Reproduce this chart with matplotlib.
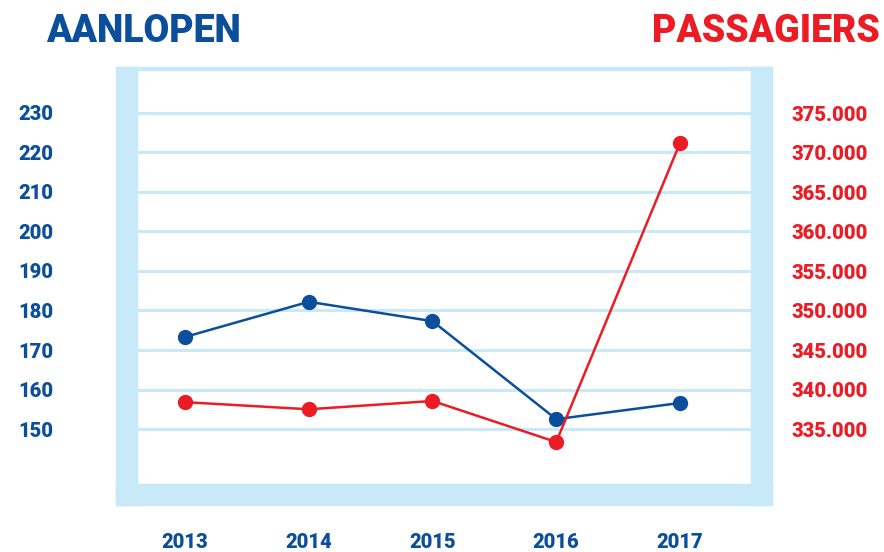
import matplotlib
matplotlib.use("Agg")
import matplotlib.pyplot as plt
from matplotlib.patches import Rectangle

# ======= DATA =======
jaren = ["2013", "2014", "2015", "2016", "2017"]
aanlopen = [173.3, 182.2, 177.3, 152.5, 156.6]
passagiers = [338400, 337500, 338550, 333350, 371200]
aanlopen_ticks = [150, 160, 170, 180, 190, 200, 210, 220, 230]
passagiers_ticks = [335000, 340000, 345000, 350000, 355000, 360000, 365000, 370000, 375000]

BLAUW = "#0b4f9c"
ROOD = "#ec1c24"
LICHT = "#c8e9f8"

plt.rcParams['font.family'] = ['Roboto', 'DejaVu Sans']

W, H = 884, 552
fig = plt.figure(figsize=(W / 100, H / 100), dpi=100)

def fx(px):
    return px / W

def fy(py):
    return 1 - py / H

# frame (pixel positions of the inner white area)
L, R, T, B = 137, 751, 69, 484
BORDER = 21
for x0, y0, x1, y1 in [(L - BORDER, T - 2, L, B + BORDER),
                       (R, T - 2, R + BORDER, B + BORDER),
                       (L - BORDER, B, R + BORDER, B + BORDER),
                       (L - BORDER, T - 2, R + BORDER, T + 1)]:
    fig.patches.append(Rectangle((fx(x0), fy(y1)), fx(x1) - fx(x0), fy(y0) - fy(y1),
                                 transform=fig.transFigure, color=LICHT, zorder=0))

ax = fig.add_axes([fx(L), fy(B), fx(R) - fx(L), fy(T) - fy(B)])
ax2 = ax.twinx()

x = list(range(len(jaren)))
ax.plot(x, aanlopen, color=BLAUW, lw=1.8, marker='o', ms=10, zorder=3)
ax2.plot(x, passagiers, color=ROOD, lw=1.8, marker='o', ms=10, zorder=3)

ax.set_xlim(-0.388, 4.574)
ax.set_ylim(136.1, 241.1)
ax2.set_ylim(328040, 380570)

ax.set_yticks(aanlopen_ticks)
ax.set_yticklabels([str(v) for v in aanlopen_ticks])
ax2.set_yticks(passagiers_ticks)
ax2.set_yticklabels([f"{v:,}".replace(",", ".") for v in passagiers_ticks])
ax.set_xticks(x)
ax.set_xticklabels(jaren)

ax.grid(axis='y', color=LICHT, lw=2.2)
ax.set_axisbelow(True)

for a in (ax, ax2):
    for s in a.spines.values():
        s.set_visible(False)
    a.patch.set_visible(False)

ax.tick_params(axis='y', length=0, pad=60, labelsize=14.5, labelcolor=BLAUW)
ax.tick_params(axis='x', length=0, pad=35, labelsize=14.5, labelcolor=BLAUW)
ax2.tick_params(axis='y', length=0, pad=29, labelsize=14.5, labelcolor=ROOD)
for lbl in ax.get_yticklabels() + ax.get_xticklabels() + ax2.get_yticklabels():
    lbl.set_fontweight('black')

fig.text(fx(46), fy(42), "AANLOPEN", color=BLAUW, fontsize=27, fontweight='black',
         ha='left', va='baseline')
fig.text(fx(880), fy(42), "PASSAGIERS", color=ROOD, fontsize=27, fontweight='black',
         ha='right', va='baseline')

fig.savefig("out.png", dpi=100)
